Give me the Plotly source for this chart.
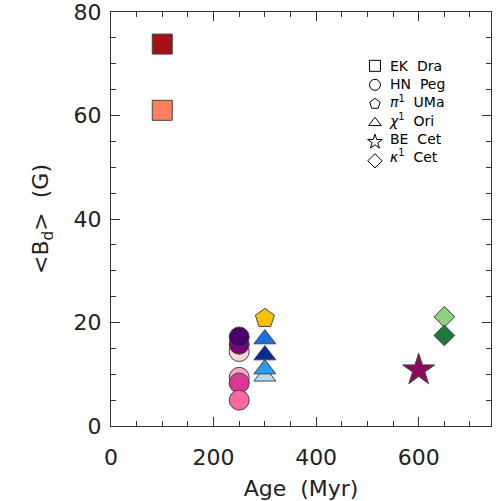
import plotly.graph_objects as go

# EK Dra
ek_age = [100, 100]
ek_b = [73.8, 61.0]
ek_col = ["#a50f15", "#fd7f5f"]
# HN Peg
hn_age = [250, 250, 250, 250, 250, 250]
hn_b = [14.4, 15.8, 17.2, 9.4, 8.3, 5.0]
hn_col = ["#fdd9d6", "#7a0177", "#49006a", "#f6a9bd", "#dd3497", "#f768a1"]
# pi1 UMa
pi_age = [300]
pi_b = [20.8]
pi_col = ["#f5c100"]
# chi1 Ori
chi_age = [300, 300, 300, 300]
chi_b = [9.6, 11.0, 13.7, 16.8]
chi_col = ["#b5dcf5", "#2c9cf0", "#0a2a94", "#1c6fdc"]
# BE Cet
be_age = [600]
be_b = [10.8]
be_col = ["#8c0a5a"]
# kappa1 Cet
ka_age = [650, 650]
ka_b = [21.1, 17.5]
ka_col = ["#8fd07e", "#1b7a3b"]

names = ["EK&nbsp; Dra", "HN&nbsp; Peg", "<i>π</i><sup>1</sup>&nbsp; UMa",
         "<i>χ</i><sup>1</sup>&nbsp; Ori", "BE&nbsp; Cet", "<i>κ</i><sup>1</sup>&nbsp; Cet"]

edge = dict(color="#444444", width=1)
fig = go.Figure()
series = [
    (ek_age, ek_b, ek_col, "square", 20),
    (hn_age, hn_b, hn_col, "circle", 20),
    (pi_age, pi_b, pi_col, "pentagon", 20),
    (chi_age, chi_b, chi_col, "triangle-up", 19),
    (be_age, be_b, be_col, "star", 24),
    (ka_age, ka_b, ka_col, "diamond", 16),
]
for xs, ys, cs, sym, sz in series:
    fig.add_trace(go.Scatter(x=xs, y=ys, mode="markers", showlegend=False,
                             marker=dict(symbol=sym, size=sz, color=cs, line=edge)))

# legend keys (open symbols); labels drawn by the annotation beside them
for (xs, ys, cs, sym, sz), nm in zip(series, names):
    fig.add_trace(go.Scatter(x=[None], y=[None], mode="markers", name="&nbsp;",
                             marker=dict(symbol=sym + "-open", size=11, color="black",
                                         line=dict(width=1, color="black"))))

fig.add_annotation(xref="paper", yref="paper", x=0.726, y=0.894,
                   xanchor="left", yanchor="top", align="left", showarrow=False,
                   text="<br>".join(names),
                   font=dict(family="DejaVu Sans", size=14, color="black"))

axis_common = dict(showline=True, linecolor="#333333", linewidth=1, mirror="ticks",
                   ticks="inside", ticklen=9, tickwidth=1, tickcolor="#333333",
                   showgrid=False, zeroline=False, automargin=False,
                   ticklabeloverflow="allow",
                   tickfont=dict(family="DejaVu Sans", size=22, color="#222222"))

fig.update_xaxes(range=[0, 741], tickvals=[0, 200, 400, 600], ticklabelstandoff=12,
                 minor=dict(dtick=50, ticks="inside", ticklen=5, tickcolor="#333333"),
                 title=dict(text="Age&nbsp; (Myr)", font=dict(family="DejaVu Sans", size=22, color="#222222"), standoff=13),
                 **axis_common)
fig.update_yaxes(range=[0, 80], tickvals=[0, 20, 40, 60, 80], ticklabelstandoff=4,
                 minor=dict(dtick=5, ticks="inside", ticklen=5, tickcolor="#333333"),
                 title=dict(text="&lt;B<sub>d</sub>&gt;&nbsp; (G)", font=dict(family="DejaVu Sans", size=22, color="#222222"), standoff=18),
                 **axis_common)

fig.update_layout(width=501, height=501, margin=dict(l=111, r=10, t=12, b=75),
                  plot_bgcolor="white", paper_bgcolor="white",
                  legend=dict(x=0.642, y=0.905, xanchor="left", yanchor="top",
                              bgcolor="rgba(0,0,0,0)", borderwidth=0,
                              font=dict(family="DejaVu Sans", size=11.7, color="black"),
                              tracegroupgap=0))

fig.write_html("out.html")
